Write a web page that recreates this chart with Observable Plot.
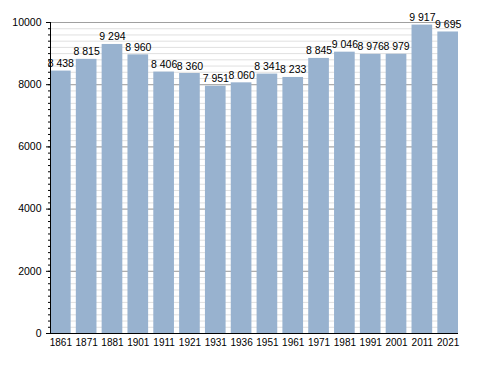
<!DOCTYPE html>
<html><head><meta charset="utf-8">
<script src="https://cdn.jsdelivr.net/npm/d3@7"></script>
<script src="https://cdn.jsdelivr.net/npm/@observablehq/plot@0.6"></script>
<style>body{margin:0;background:#fff}</style></head>
<body><div id="chart"></div>
<script>
const years = ["1861","1871","1881","1901","1911","1921","1931","1936","1951","1961","1971","1981","1991","2001","2011","2021"];
const population = [8438,8815,9294,8960,8406,8360,7951,8060,8341,8233,8845,9046,8976,8979,9917,9695];
const yMajor = [0,2000,4000,6000,8000,10000];
const yMinor = d3.range(0,10001,200);
const data = years.map((y,i)=>({year:y,pop:population[i]}));
const fmt = v => d3.format(",")(v).replace(/,/g," ");
const chart = Plot.plot({
  width:488, height:373, marginTop:22, marginBottom:40, marginLeft:50, marginRight:30,
  style:{fontFamily:"'Liberation Sans', Arial, sans-serif", fontSize:"10px", background:"#fff", color:"#000"},
  x:{type:"band", domain:years, paddingInner:0.2, paddingOuter:0, round:false, label:null},
  y:{domain:[0,10000], label:null},
  marks:[
    Plot.gridY(yMinor,{stroke:"#e0e0e0", strokeOpacity:1}),
    Plot.gridY(yMajor,{stroke:"#a0a0a0", strokeOpacity:1}),
    Plot.barY(data,{x:"year", y:"pop", fill:"#98b2cf"}),
    Plot.axisY(yMinor,{tickSize:2, text:null, stroke:"#000", strokeOpacity:1}),
    Plot.axisY(yMajor,{tickSize:4, tickPadding:5, fontSize:10.5, tickFormat:d=>String(d), stroke:"#000", strokeOpacity:1}),
    Plot.frame({anchor:"left", stroke:"#000"}),
    Plot.ruleY([0],{stroke:"#000"}),
    Plot.axisX({tickSize:0, tickPadding:5, fontSize:10}),
    Plot.text(data,{x:"year", y:"pop", text:d=>fmt(d.pop), dy:-4, lineAnchor:"bottom", fontSize:10.5, fill:"#000"})
  ]
});
document.getElementById("chart").append(chart);
</script>
</body></html>
